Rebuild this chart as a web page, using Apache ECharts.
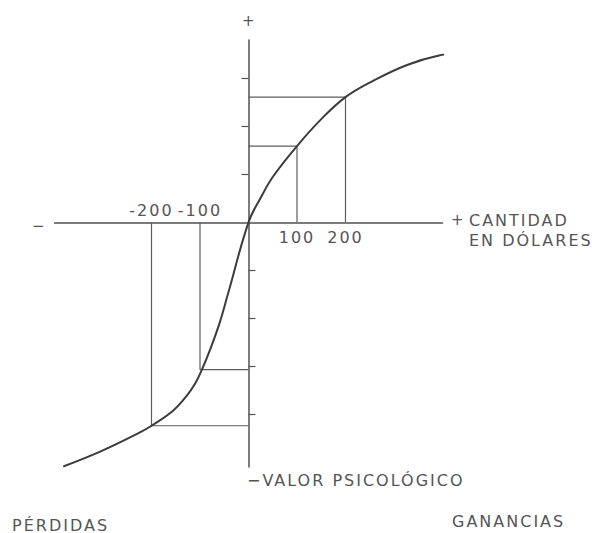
<!DOCTYPE html>
<html>
<head>
<meta charset="utf-8">
<script src="https://cdn.jsdelivr.net/npm/echarts@6/dist/echarts.min.js"></script>
<style>
html,body{margin:0;padding:0;background:#fff;}
#chart{width:592px;height:533px;}
#chart text{letter-spacing:2px;}
</style>
</head>
<body>
<div id="chart"></div>
<script>
// Value function curve (x = dollars, y = psychological value in tick units)
var curveX = [-382, -306, -224, -200, -155, -127, -110, -96, -79, -59, -42, 0, 24, 51, 100, 147, 200, 257, 327, 395, 463];
var curveY = [-5.09, -4.78, -4.38, -4.24, -3.92, -3.61, -3.36, -3.07, -2.65, -2.08, -1.48, 0, 0.49, 0.96, 1.59, 2.12, 2.61, 2.95, 3.28, 3.48, 3.57];
// Guide points (dollar amount, value)
var guideX = [-200, -100, 100, 200];
var guideY = [-4.24, -3.07, 1.59, 2.61];
// Tick labels
var gainTickValues = [100, 200];
var lossTickValues = [-200, -100];
var gainTickLabels = ['100', '200'];
var lossTickLabels = ['-200', '-100'];
// Y-axis tick marks
var upperTicks = [1, 2, 3];
var lowerTicks = [-1, -2, -3, -4];

var X_MIN = -400, X_MAX = 400, Y_MIN = -5.1, Y_MAX = 3.8;
var GRID_TOP = 40, GRID_BOTTOM = 66, CH = 533;
var gridH = CH - GRID_TOP - GRID_BOTTOM;
var zeroFromBottom = gridH * (0 - Y_MIN) / (Y_MAX - Y_MIN);
var zeroFromTop = gridH * Y_MAX / (Y_MAX - Y_MIN);

var axisColor = '#505050';
var textColor = '#555555';
var font = 'DejaVu Sans';

var curveData = curveX.map(function (x, i) { return [x, curveY[i]]; });
var guideSeries = guideX.map(function (x, i) {
  return {
    type: 'line', xAxisIndex: 0, yAxisIndex: 0, silent: true, symbol: 'none',
    lineStyle: { color: '#5e5e5e', width: 1.2 },
    data: [[x, 0], [x, guideY[i]], [0, guideY[i]]],
    z: 2
  };
});

var xCommon = { type: 'value', min: X_MIN, max: X_MAX, splitLine: { show: false } };
var yCommon = { type: 'value', min: Y_MIN, max: Y_MAX, splitLine: { show: false }, axisLabel: { show: false } };

var option = {
  animation: false,
  backgroundColor: '#fff',
  grid: { left: 54.5, right: 149.5, top: GRID_TOP, bottom: GRID_BOTTOM, containLabel: false },
  xAxis: [
    Object.assign({}, xCommon, {
      position: 'bottom',
      offset: -zeroFromBottom,
      axisLine: { onZero: false, lineStyle: { color: axisColor, width: 1.5 } },
      axisTick: { show: false },
      axisLabel: {
        customValues: gainTickValues,
        formatter: function (v) { var k = gainTickValues.indexOf(v); return k >= 0 ? gainTickLabels[k] : ''; },
        color: textColor, fontFamily: font, fontSize: 16, margin: 7
      }
    }),
    Object.assign({}, xCommon, {
      position: 'top',
      offset: -zeroFromTop,
      axisLine: { show: false, onZero: false },
      axisTick: { show: false },
      axisLabel: {
        customValues: lossTickValues,
        formatter: function (v) { var k = lossTickValues.indexOf(v); return k >= 0 ? lossTickLabels[k] : ''; },
        color: textColor, fontFamily: font, fontSize: 16, margin: 4
      }
    })
  ],
  yAxis: [
    Object.assign({}, yCommon, {
      position: 'left',
      axisLine: { onZero: true, lineStyle: { color: axisColor, width: 1.5 } },
      axisTick: { show: true, customValues: upperTicks, inside: false, length: 7, lineStyle: { color: axisColor, width: 1.2 } }
    }),
    Object.assign({}, yCommon, {
      position: 'left',
      axisLine: { show: false, onZero: true },
      axisTick: { show: true, customValues: lowerTicks, inside: true, length: 7, lineStyle: { color: axisColor, width: 1.2 } }
    })
  ],
  series: guideSeries.concat([{
    type: 'line', xAxisIndex: 0, yAxisIndex: 0, silent: true, symbol: 'none',
    smooth: 0.4, clip: false,
    lineStyle: { color: '#3c3c3c', width: 2 },
    data: curveData, z: 3
  }]),
  graphic: [
    { type: 'text', left: 242, top: 13, style: { text: '+', fill: textColor, font: '15px "' + font + '"' } },
    { type: 'text', left: 32, top: 218, style: { text: '\u2212', fill: textColor, font: '15px "' + font + '"' } },
    { type: 'text', left: 451, top: 212, style: { text: '+', fill: textColor, font: '15px "' + font + '"' } },
    { type: 'text', left: 469, top: 212, style: { text: 'CANTIDAD', fill: textColor, font: '16px "' + font + '"' } },
    { type: 'text', left: 469, top: 232, style: { text: 'EN DÓLARES', fill: textColor, font: '16px "' + font + '"' } },
    { type: 'text', left: 247, top: 472, style: { text: '\u2212VALOR PSICOLÓGICO', fill: textColor, font: '16px "' + font + '"' } },
    { type: 'text', left: 12, top: 517, style: { text: 'PÉRDIDAS', fill: textColor, font: '16px "' + font + '"' } },
    { type: 'text', left: 452, top: 513, style: { text: 'GANANCIAS', fill: textColor, font: '16px "' + font + '"' } }
  ]
};

var chart = echarts.init(document.getElementById('chart'), null, { renderer: 'svg' });
chart.setOption(option);
</script>
</body>
</html>
